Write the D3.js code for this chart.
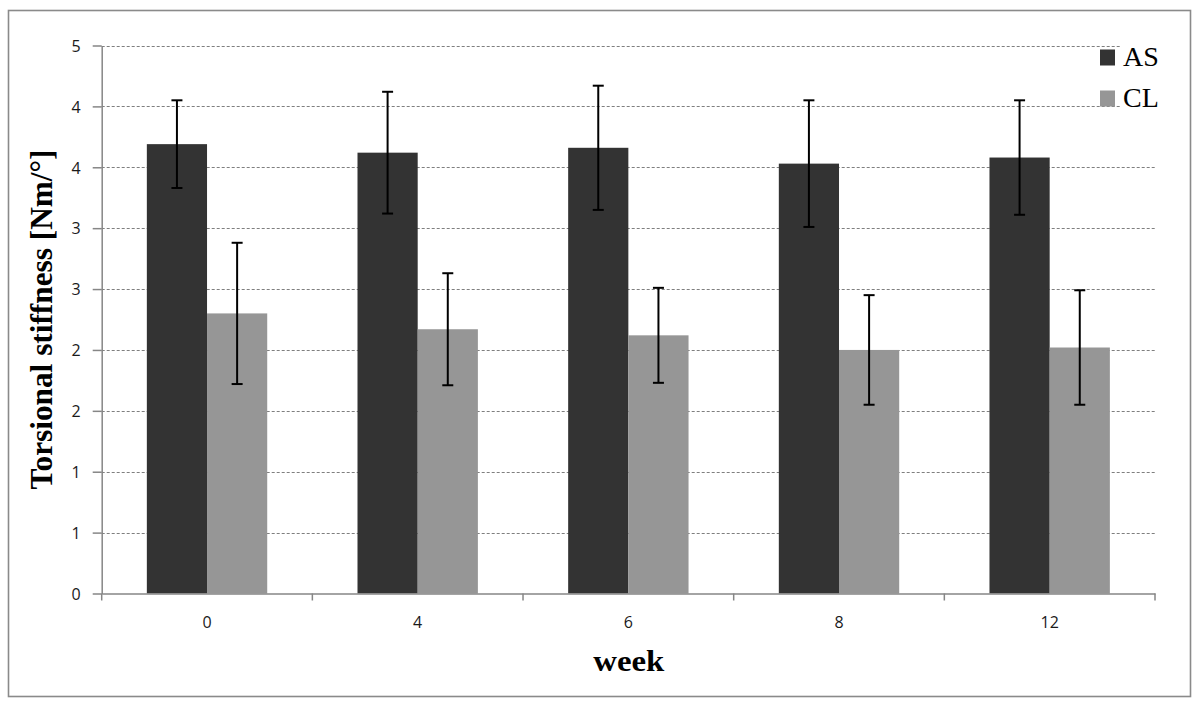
<!DOCTYPE html>
<html><head><meta charset="utf-8">
<script src="https://cdn.jsdelivr.net/npm/d3@7"></script>
<style>body{margin:0;background:#fff;} svg{display:block}</style>
</head><body><svg id="c" width="1200" height="709"></svg>
<script>
const weeks = ["0","4","6","8","12"];
const seriesNames = ["AS","CL"];
const seriesColors = ["#333333","#969696"];
const asValues = [3.69,3.62,3.66,3.53,3.58];
const asErrors = [0.36,0.50,0.51,0.52,0.47];
const clValues = [2.30,2.17,2.12,2.00,2.02];
const clErrors = [0.58,0.46,0.39,0.45,0.47];
const yTickValues = [0,0.5,1,1.5,2,2.5,3,3.5,4,4.5];
const yTickLabels = ["0","1","1","2","2","3","3","4","4","5"];
const yTitle = "Torsional stiffness [Nm/°]";
const xTitle = "week";

const svg = d3.select("#c");
const L = 101.7, R = 1155, T = 45.5, B = 593.5;

// outer border
svg.append("rect").attr("x",8.5).attr("y",10.5).attr("width",1182).attr("height",686)
  .attr("fill","#fff").attr("stroke","#8a8a8a").attr("stroke-width",1.6);

const x = d3.scaleBand().domain(weeks).range([L,R]).padding(0);
const x1 = d3.scaleBand().domain(seriesNames).range([0,x.bandwidth()]).paddingInner(0).paddingOuter(0.75);
const y = d3.scaleLinear().domain([0,4.5]).range([B,T]);

// gridlines
svg.append("g").selectAll("line").data(yTickValues.filter(v=>v>0)).join("line")
  .attr("x1",L).attr("x2",R).attr("y1",d=>Math.round(y(d))+0.5).attr("y2",d=>Math.round(y(d))+0.5)
  .attr("stroke","#7f7f7f").attr("stroke-width",1.2).attr("stroke-dasharray","3,2");

const rows = weeks.map((w,i)=>({week:w, vals:[
  {s:"AS", v:asValues[i], e:asErrors[i]},
  {s:"CL", v:clValues[i], e:clErrors[i]}]}));

const color = d3.scaleOrdinal().domain(seriesNames).range(seriesColors);

const grp = svg.append("g").selectAll("g").data(rows).join("g")
  .attr("transform",d=>`translate(${x(d.week)},0)`);
grp.selectAll("rect").data(d=>d.vals).join("rect")
  .attr("x",d=>x1(d.s)).attr("width",x1.bandwidth())
  .attr("y",d=>y(d.v)).attr("height",d=>B-y(d.v))
  .attr("fill",d=>color(d.s));

// error bars
const eb = grp.selectAll("g.eb").data(d=>d.vals).join("g").attr("class","eb");
eb.append("line").attr("x1",d=>x1(d.s)+x1.bandwidth()/2).attr("x2",d=>x1(d.s)+x1.bandwidth()/2)
  .attr("y1",d=>y(d.v+d.e)).attr("y2",d=>y(d.v-d.e)).attr("stroke","#000").attr("stroke-width",2);
eb.append("line").attr("x1",d=>x1(d.s)+x1.bandwidth()/2-5.5).attr("x2",d=>x1(d.s)+x1.bandwidth()/2+5.5)
  .attr("y1",d=>y(d.v+d.e)).attr("y2",d=>y(d.v+d.e)).attr("stroke","#000").attr("stroke-width",2);
eb.append("line").attr("x1",d=>x1(d.s)+x1.bandwidth()/2-5.5).attr("x2",d=>x1(d.s)+x1.bandwidth()/2+5.5)
  .attr("y1",d=>y(d.v-d.e)).attr("y2",d=>y(d.v-d.e)).attr("stroke","#000").attr("stroke-width",2);

// y axis
const yAxis = svg.append("g").attr("transform",`translate(${L},0)`)
  .call(d3.axisLeft(y).tickValues(yTickValues).tickFormat((d,i)=>yTickLabels[i]).tickSize(9).tickPadding(12).tickSizeOuter(0));
// x axis
const xTickPos = weeks.map(w=>x(w)).concat([R]);
const xAxis = svg.append("g").attr("transform",`translate(0,${B})`)
  .call(d3.axisBottom(x).tickSize(0).tickPadding(23).tickSizeOuter(0));
xAxis.selectAll(".tk").data(xTickPos).join("line").attr("class","tk")
  .attr("x1",d=>d).attr("x2",d=>d).attr("y1",0).attr("y2",7).attr("stroke","#868686").attr("stroke-width",1.5);

[yAxis,xAxis].forEach(a=>{
  a.select(".domain").attr("stroke","#868686").attr("stroke-width",1.5);
  a.selectAll(".tick line").attr("stroke","#868686").attr("stroke-width",1.5);
  a.selectAll("text").attr("font-family","'Open Sans', Lato, sans-serif").attr("font-size",16).attr("fill","#1a1a1a");
});
yAxis.selectAll("text").attr("dy","0.36em");

// axis titles
svg.append("text").attr("transform",`translate(52,${(T+B)/2}) rotate(-90)`)
  .attr("text-anchor","middle").attr("font-family","'Liberation Serif','Times New Roman',serif")
  .attr("font-weight","bold").attr("font-size",31).attr("fill","#000")
  .attr("textLength",340).attr("lengthAdjust","spacingAndGlyphs").text(yTitle);
svg.append("text").attr("x",(L+R)/2+0.5).attr("y",670.5)
  .attr("text-anchor","middle").attr("font-family","'Liberation Serif','Times New Roman',serif")
  .attr("font-weight","bold").attr("font-size",30).attr("fill","#000")
  .attr("textLength",71).attr("lengthAdjust","spacingAndGlyphs").text(xTitle);

// legend
svg.append("rect").attr("x",1121).attr("y",38).attr("width",46).attr("height",76).attr("fill","#fff");
const lg = svg.append("g").selectAll("g").data(seriesNames).join("g")
  .attr("transform",(d,i)=>`translate(1100,${49.5+i*41})`);
lg.append("rect").attr("width",15).attr("height",16).attr("fill",d=>color(d));
lg.append("text").attr("x",23).attr("y",16.5).attr("font-family","'Liberation Serif','Times New Roman',serif")
  .attr("font-size",28).attr("fill","#000").text(d=>d);
</script></body></html>
